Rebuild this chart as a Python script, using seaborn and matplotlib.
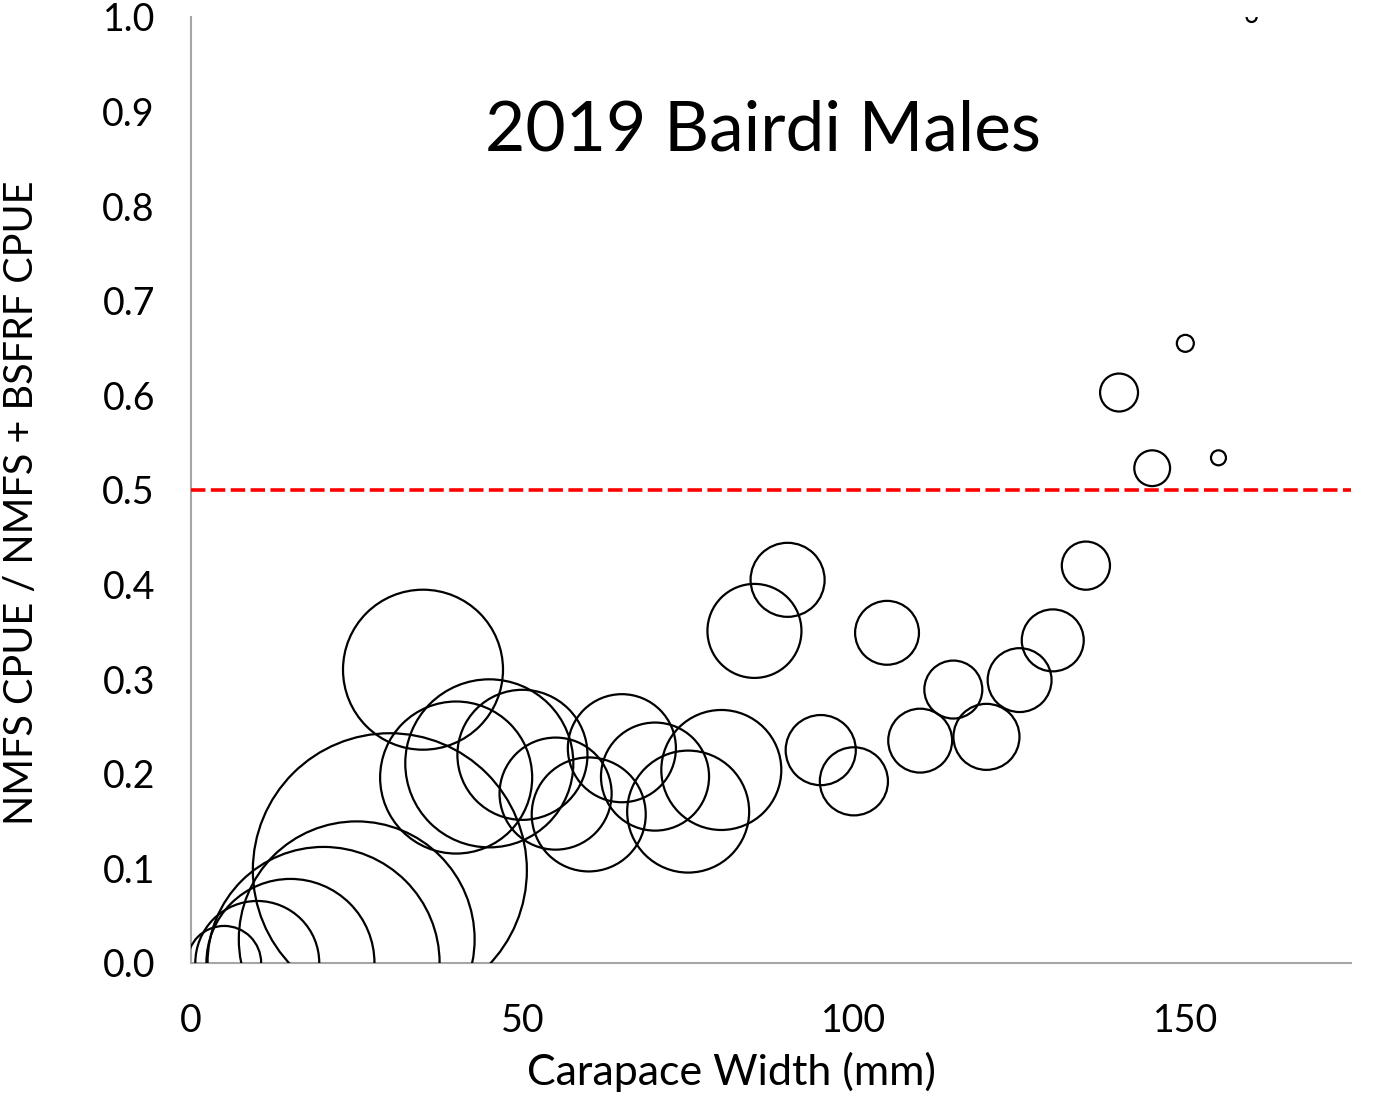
import pandas as pd
import numpy as np
import seaborn as sns
import matplotlib.pyplot as plt

# --- Data ---
# carapace width bins (mm)
width_mm = [5, 10, 15, 20, 25, 30, 35, 40, 45, 50, 55, 60, 65, 70, 75, 80,
            85, 90, 95, 100, 105, 110, 115, 120, 125, 130, 135, 140, 145, 150, 155, 160]
# NMFS CPUE / (NMFS + BSFRF CPUE)
cpue_ratio = [0.0, 0.0, 0.0, 0.0, 0.025, 0.098, 0.31, 0.196, 0.211, 0.22, 0.179, 0.157,
              0.227, 0.197, 0.16, 0.204, 0.351, 0.405, 0.225, 0.192, 0.349, 0.235,
              0.289, 0.239, 0.299, 0.341, 0.42, 0.603, 0.523, 0.655, 0.534, 1.0]
# bubble size (relative combined CPUE)
bubble_size = [13.7, 38.4, 70.6, 134.6, 139.0, 187.7, 64.0, 57.8, 70.6, 42.3, 31.4, 32.5,
               29.2, 29.2, 37.2, 36.0, 22.1, 13.7, 12.3, 11.6, 10.2, 10.2, 8.4, 10.9,
               10.2, 9.6, 5.8, 3.6, 3.2, 0.72, 0.56, 0.25]

df = pd.DataFrame({'width': width_mm, 'ratio': cpue_ratio, 'size': bubble_size})

sns.set_style('white')
plt.rcParams['font.family'] = ['Lato', 'DejaVu Sans']
plt.rcParams['text.color'] = 'black'
plt.rcParams['axes.labelcolor'] = 'black'

fig = plt.figure(figsize=(13.83, 10.96), dpi=100)
ax = fig.add_axes([0.1381, 0.1214, 0.8388, 0.8631])

# area of marker in pt^2 proportional to bubble size
smax = 207.36 * max(bubble_size)
sns.scatterplot(data=df, x='width', y='ratio', size='size',
                sizes=(0, smax), size_norm=(0, max(bubble_size)),
                facecolor='none', edgecolor='black', linewidth=1.6,
                legend=False, ax=ax, zorder=3)
pts = ax.collections[0]
pts.set_facecolor('none')
pts.set_edgecolor('black')

ax.axhline(0.5, color='red', linestyle='--', linewidth=2.6, dashes=(4, 1.5), zorder=4)

ax.set_xlim(0, 175)
ax.set_ylim(0, 1.0)
ax.set_xticks([0, 50, 100, 150])
ax.set_yticks(np.arange(0, 1.01, 0.1))
ax.set_yticklabels([f'{v:.1f}' for v in np.arange(0, 1.01, 0.1)])

for side in ['top', 'right']:
    ax.spines[side].set_visible(False)
for side in ['left', 'bottom']:
    ax.spines[side].set_color('#a6a6a6')
    ax.spines[side].set_linewidth(1.5)

ax.tick_params(axis='both', direction='out', length=9, width=1.5, color='#a6a6a6',
               labelsize=27, labelcolor='black')
ax.tick_params(axis='y', pad=17)
ax.tick_params(axis='x', pad=20)

ax.set_xlabel('Carapace Width (mm)', fontsize=31)
ax.set_ylabel('NMFS CPUE / NMFS + BSFRF CPUE', fontsize=28.5)
ax.xaxis.set_label_coords(0.466, -0.094)
ax.yaxis.set_label_coords(-0.130, 0.486)

ax.text(0.493, 0.879, '2019 Bairdi Males', transform=ax.transAxes,
        ha='center', va='center', fontsize=50, color='black')

fig.savefig('out.png', dpi=100)
